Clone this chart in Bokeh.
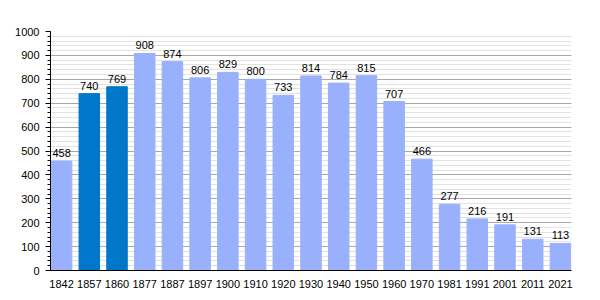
from bokeh.plotting import figure
from bokeh.models import ColumnDataSource, Range1d, FixedTicker, LabelSet
from bokeh.core.properties import value
from bokeh.embed import file_html
from bokeh.resources import INLINE

years = ["1842", "1857", "1860", "1877", "1887", "1897", "1900", "1910", "1920", "1930",
         "1940", "1950", "1960", "1970", "1981", "1991", "2001", "2011", "2021"]
population = [458, 740, 769, 908, 874, 806, 829, 800, 733, 814,
              784, 815, 707, 466, 277, 216, 191, 131, 113]
highlight = ["1857", "1860"]

LIGHT = "#99b1fd"
DARK = "#0077c8"

xs = list(range(len(years)))
colors = [DARK if y in highlight else LIGHT for y in years]
src = ColumnDataSource(dict(x=xs, top=population, color=colors,
                            label=[str(v) for v in population]))

p = figure(width=600, height=300, output_backend="svg", toolbar_location=None,
           x_range=Range1d(-0.4, len(years) - 0.6), y_range=Range1d(0, 1000),
           min_border_left=50, min_border_right=29, min_border_top=31, min_border_bottom=30)
p.outline_line_color = None
p.background_fill_color = "white"

p.vbar(x="x", top="top", width=0.74, color="color", source=src)

labels = LabelSet(x="x", y="top", text="label", source=src, text_align="center",
                  text_baseline="bottom", y_offset=4, text_font_size="11px",
                  text_font=value("Liberation Sans"), text_color="black")
p.add_layout(labels)

p.xaxis.ticker = FixedTicker(ticks=xs)
p.xaxis.major_label_overrides = {i: y for i, y in enumerate(years)}
p.xaxis.major_tick_line_color = None
p.xaxis.minor_tick_line_color = None
p.xaxis.axis_line_color = "black"
p.xaxis.major_label_standoff = 3
p.xaxis.major_label_text_font = "Liberation Sans"
p.xaxis.major_label_text_font_size = "11px"
p.xaxis.major_label_text_color = "black"

p.yaxis.ticker = FixedTicker(ticks=list(range(0, 1001, 100)),
                             minor_ticks=list(range(0, 1001, 20)))
p.yaxis.axis_line_color = "black"
p.yaxis.major_tick_line_color = "black"
p.yaxis.minor_tick_line_color = "black"
p.yaxis.major_tick_out = 5
p.yaxis.major_tick_in = 0
p.yaxis.minor_tick_out = 3
p.yaxis.minor_tick_in = 0
p.yaxis.major_label_standoff = 6
p.yaxis.major_label_text_font = "Liberation Sans"
p.yaxis.major_label_text_font_size = "11px"
p.yaxis.major_label_text_color = "black"

p.xgrid.grid_line_color = None
p.ygrid.grid_line_color = "#a8a8a8"
p.ygrid.minor_grid_line_color = "#e2e2e2"
p.ygrid.level = "underlay"

open("out.html", "w").write(file_html(p, INLINE))
